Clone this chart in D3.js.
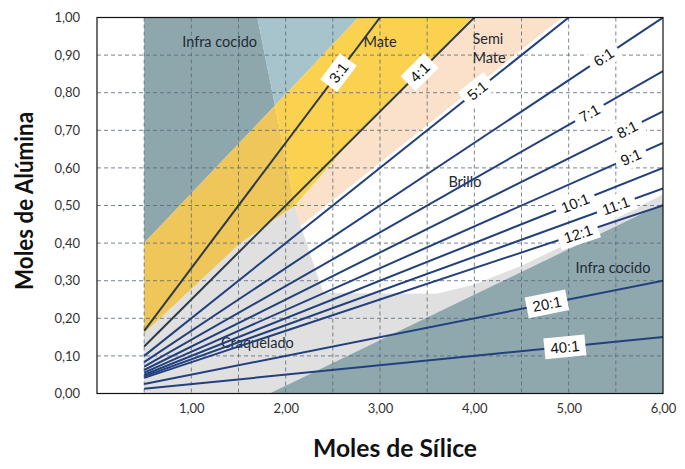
<!DOCTYPE html>
<html>
<head>
<meta charset="utf-8">
<script src="https://cdn.jsdelivr.net/npm/d3@7"></script>
<style>
  body { margin: 0; background: #fff; }
  svg { display: block; }
</style>
</head>
<body>
<script>
'use strict';

const WIDTH = 685;
const HEIGHT = 469;

const PLOT_LEFT = 97;
const PLOT_RIGHT = 663;
const PLOT_TOP = 17.5;
const PLOT_BOTTOM = 393.5;

// Silica : alumina ratios and where along x their label sits.
const RATIOS = [3, 4, 5, 6, 7, 8, 9, 10, 11, 12, 20, 40];
const LABEL_X = [2.56, 3.42, 4.03, 5.37, 5.22, 5.62, 5.66, 5.07, 5.5, 5.1, 4.77, 4.96];
const LINE_START_X = 0.5;

const X_TICKS = [1, 2, 3, 4, 5, 6];
const X_GRID = [0.5, 1, 1.5, 2, 2.5, 3, 3.5, 4, 4.5, 5, 5.5];
const Y_TICKS = [0, 0.1, 0.2, 0.3, 0.4, 0.5, 0.6, 0.7, 0.8, 0.9, 1.0];

// Shaded zones, as [silica, alumina] corners.
const ZONE_NAMES = ['craquelado', 'infraRight', 'infraDark', 'infraLight', 'mateDark', 'mateLight', 'semiMate'];
const ZONE_POINTS = [
    [[0.5, 0.16], [1.52, 0.40], [2.1, 0.5], [2.16, 0.446], [2.40, 0.267], [3.6, 0.265], [4.0, 0.29],
     [4.5, 0.34], [5.0, 0.40], [5.5, 0.465], [6.0, 0.53], [6.0, 0], [0.5, 0]],
    [[1.83, 0], [6.0, 0.505], [6.0, 0]],
    [[0.5, 1.0], [1.70, 1.0], [1.887, 0.766], [0.5, 0.4]],
    [[1.70, 1.0], [2.77, 1.0], [1.887, 0.766]],
    [[0.5, 0.4], [1.887, 0.766], [2.1, 0.5], [1.52, 0.40], [0.5, 0.16]],
    [[1.887, 0.766], [2.77, 1.0], [3.98, 1.0], [2.61, 0.647], [2.1, 0.5]],
    [[3.98, 1.0], [4.93, 1.0], [2.16, 0.446], [2.1, 0.5], [2.61, 0.647]]
];

const ZONE_LABELS = ['Infra cocido', 'Mate', 'Semi', 'Mate', 'Brillo', 'Craquelado', 'Infra cocido'];
const ZONE_LABEL_POS = [[1.3, 0.93], [3.0, 0.93], [3.98, 0.94], [3.98, 0.89], [3.9, 0.56], [1.7, 0.13], [5.47, 0.33]];

const ZONE_COLORS = {
    craquelado: '#e0e0e0',
    infraRight: '#8fa8ae',
    infraDark: '#8ea7ad',
    infraLight: '#a7c3cb',
    mateDark: '#efc65a',
    mateLight: '#fbd24f',
    semiMate: '#fbe1c9'
};

const DARK_LINE = '#2e3a44';
const BLUE_LINE = '#22407e';
const GRID_COLOR = '#56677a';
const TEXT_COLOR = '#1f2b36';
const FONT = 'Lato, "Open Sans", sans-serif';

function comma(v) {
    return d3.format('.2f')(v).replace('.', ',');
}

function main() {
    const x = d3.scaleLinear().domain([0, 6]).range([PLOT_LEFT, PLOT_RIGHT]);
    const y = d3.scaleLinear().domain([0, 1]).range([PLOT_BOTTOM, PLOT_TOP]);

    const svg = d3.select('body')
            .append('svg')
            .attr('width', WIDTH)
            .attr('height', HEIGHT);

    svg.append('clipPath')
            .attr('id', 'plot-clip')
            .append('rect')
            .attr('x', PLOT_LEFT)
            .attr('y', PLOT_TOP)
            .attr('width', PLOT_RIGHT - PLOT_LEFT)
            .attr('height', PLOT_BOTTOM - PLOT_TOP);

    const plot = svg.append('g').attr('clip-path', 'url(#plot-clip)');

    // Zones.
    const zoneLine = d3.line().x(d => x(d[0])).y(d => y(d[1]));
    plot.selectAll('path.zone')
            .data(ZONE_POINTS)
            .enter()
            .append('path')
            .attr('class', 'zone')
            .attr('d', d => zoneLine(d) + 'Z')
            .style('fill', (d, i) => ZONE_COLORS[ZONE_NAMES[i]])
            .style('stroke', 'none');

    // Grid.
    plot.selectAll('line.hgrid')
            .data(Y_TICKS.slice(1, -1))
            .enter()
            .append('line')
            .attr('x1', PLOT_LEFT)
            .attr('x2', PLOT_RIGHT)
            .attr('y1', d => y(d))
            .attr('y2', d => y(d))
            .style('stroke', GRID_COLOR)
            .style('stroke-width', 0.8)
            .style('stroke-dasharray', '4,3');

    plot.selectAll('line.vgrid')
            .data(X_GRID)
            .enter()
            .append('line')
            .attr('x1', d => x(d))
            .attr('x2', d => x(d))
            .attr('y1', PLOT_TOP)
            .attr('y2', PLOT_BOTTOM)
            .style('stroke', GRID_COLOR)
            .style('stroke-width', 0.8)
            .style('stroke-dasharray', '4,3');

    // Zone labels.
    plot.selectAll('text.zone-label')
            .data(ZONE_LABELS)
            .enter()
            .append('text')
            .attr('x', (d, i) => x(ZONE_LABEL_POS[i][0]))
            .attr('y', (d, i) => y(ZONE_LABEL_POS[i][1]))
            .attr('text-anchor', (d, i) => (i === 2 || i === 3) ? 'start' : 'middle')
            .attr('dominant-baseline', 'middle')
            .style('font-family', FONT)
            .style('font-size', '14.5px')
            .style('fill', TEXT_COLOR)
            .text(d => d);

    // Ratio lines.
    const ratioLine = d3.line().x(d => x(d[0])).y(d => y(d[1]));
    plot.selectAll('path.ratio')
            .data(RATIOS)
            .enter()
            .append('path')
            .attr('class', 'ratio')
            .attr('d', r => {
                const xEnd = Math.min(6, r);
                return ratioLine([[LINE_START_X, LINE_START_X / r], [xEnd, xEnd / r]]);
            })
            .style('fill', 'none')
            .style('stroke', r => r <= 4 ? DARK_LINE : BLUE_LINE)
            .style('stroke-width', 2);

    // Ratio labels in white boxes, turned along each line.
    const labels = plot.selectAll('g.ratio-label')
            .data(RATIOS)
            .enter()
            .append('g')
            .attr('transform', (r, i) => {
                const lx = LABEL_X[i];
                const px = x(lx);
                const py = y(lx / r);
                const angle = Math.atan2(y(1 / r) - y(0), x(1) - x(0)) * 180 / Math.PI;
                return `translate(${px},${py}) rotate(${angle})`;
            });

    labels.append('rect');
    labels.append('text')
            .attr('text-anchor', 'middle')
            .attr('dominant-baseline', 'central')
            .style('font-family', '"Liberation Sans", Arial, sans-serif')
            .style('font-size', '15px')
            .style('fill', '#111')
            .text(r => `${r}:1`);

    labels.each(function() {
        const g = d3.select(this);
        const w = g.select('text').node().getComputedTextLength() + 12;
        const h = 21;
        g.select('rect')
                .attr('x', -w / 2)
                .attr('y', -h / 2)
                .attr('width', w)
                .attr('height', h)
                .style('fill', '#fff');
    });

    // Frame.
    svg.append('rect')
            .attr('x', PLOT_LEFT)
            .attr('y', PLOT_TOP)
            .attr('width', PLOT_RIGHT - PLOT_LEFT)
            .attr('height', PLOT_BOTTOM - PLOT_TOP)
            .style('fill', 'none')
            .style('stroke', '#111')
            .style('stroke-width', 1.2);

    // Axes.
    const xAxis = d3.axisBottom(x).tickValues(X_TICKS).tickFormat(comma).tickSize(0).tickPadding(10);
    const yAxis = d3.axisLeft(y).tickValues(Y_TICKS).tickFormat(comma).tickSize(0).tickPadding(17);

    const gx = svg.append('g')
            .attr('transform', `translate(0,${PLOT_BOTTOM})`)
            .call(xAxis);
    const gy = svg.append('g')
            .attr('transform', `translate(${PLOT_LEFT},0)`)
            .call(yAxis);

    [gx, gy].forEach(function(g) {
        g.select('.domain').remove();
        g.selectAll('text')
                .style('font-family', FONT)
                .style('font-size', '13px')
                .style('fill', '#333');
    });

    // Axis titles.
    svg.append('text')
            .attr('x', 395)
            .attr('y', 457)
            .attr('text-anchor', 'middle')
            .attr('textLength', 164)
            .attr('lengthAdjust', 'spacingAndGlyphs')
            .style('font-family', FONT)
            .style('font-weight', 'bold')
            .style('font-size', '24px')
            .style('fill', '#111')
            .text('Moles de Sílice');

    svg.append('text')
            .attr('transform', 'translate(33,201) rotate(-90)')
            .attr('text-anchor', 'middle')
            .attr('textLength', 178)
            .attr('lengthAdjust', 'spacingAndGlyphs')
            .style('font-family', FONT)
            .style('font-weight', 'bold')
            .style('font-size', '24px')
            .style('fill', '#111')
            .text('Moles de Alúmina');
}

document.addEventListener('DOMContentLoaded', function() {
    main();
});
</script>
</body>
</html>
